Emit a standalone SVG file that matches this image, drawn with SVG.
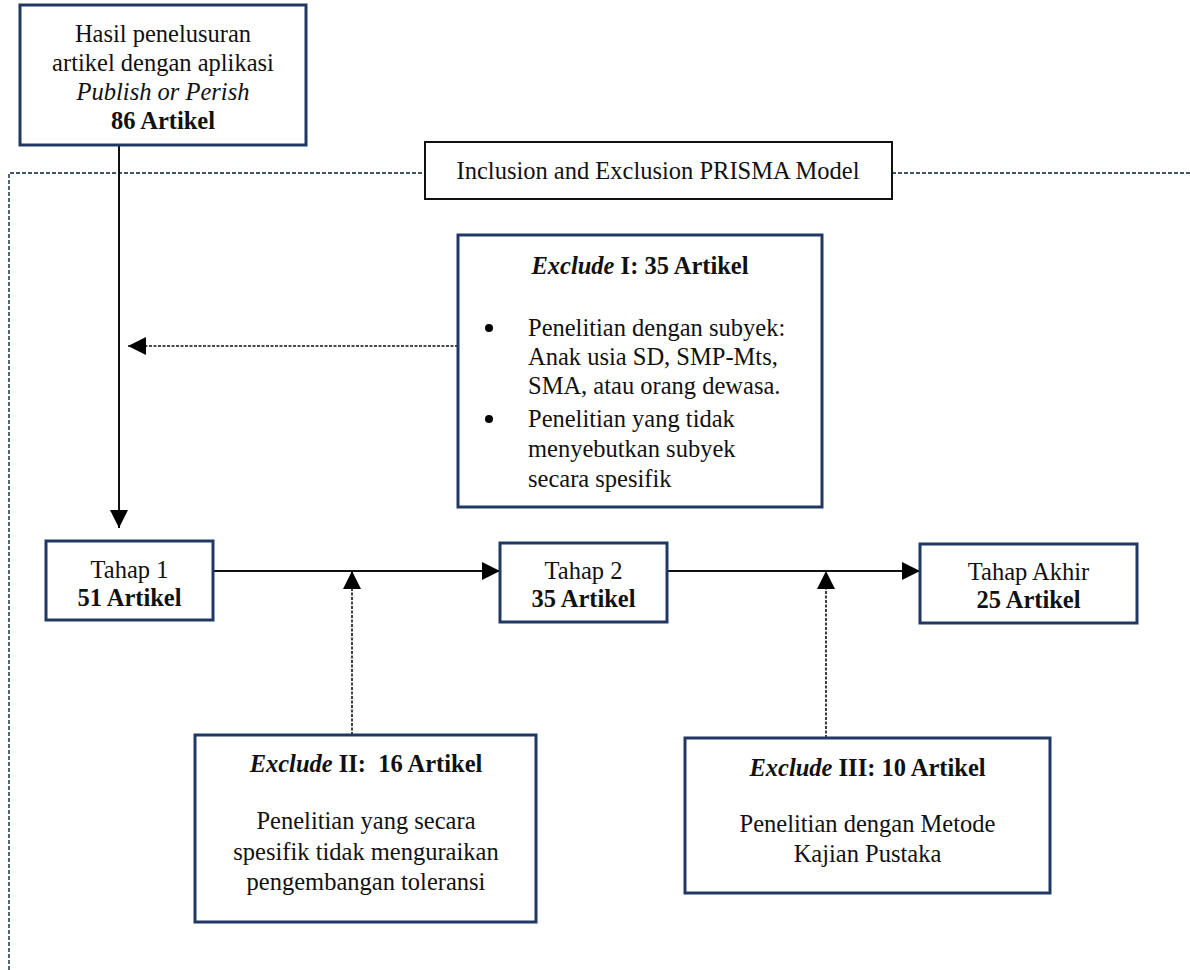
<svg xmlns="http://www.w3.org/2000/svg" width="1190" height="970" viewBox="0 0 1190 970">
<style>
text{font-family:"Liberation Serif","Times New Roman",serif;font-size:24.5px;fill:#111;}
.c{text-anchor:middle;}
.b{font-weight:bold;}
.i{font-style:italic;}
.node{fill:#fff;stroke:#1f3864;stroke-width:3;}
.lbl{fill:#fff;stroke:#111;stroke-width:2;}
.frame{fill:none;stroke:#44546a;stroke-width:1.8;stroke-dasharray:4 2;}
.solid{fill:none;stroke:#111;stroke-width:2;}
.dash{fill:none;stroke:#111;stroke-width:1.6;stroke-dasharray:3 1.5;}
</style>
<defs>
<marker id="ah" markerUnits="userSpaceOnUse" markerWidth="20" markerHeight="20" refX="18" refY="9" orient="auto" viewBox="0 0 20 20">
<path d="M0,0 L18,9 L0,18 z" fill="#000"/>
</marker>
</defs>
<rect width="1190" height="970" fill="#fff"/>
<path class="frame" d="M9,970 V173 H1190"/>
<g id="connectors">
<line class="solid" x1="119" y1="145" x2="119" y2="528" marker-end="url(#ah)"/>
<line class="dash" x1="458" y1="346" x2="128" y2="346" marker-end="url(#ah)"/>
<line class="solid" x1="213" y1="571" x2="500" y2="571" marker-end="url(#ah)"/>
<line class="solid" x1="667" y1="571" x2="920" y2="571" marker-end="url(#ah)"/>
<line class="dash" x1="352" y1="735" x2="352" y2="571" marker-end="url(#ah)"/>
<line class="dash" x1="826" y1="738" x2="826" y2="571" marker-end="url(#ah)"/>
</g>
<g id="search">
<rect class="node" x="20" y="5" width="286" height="140"/>
<text class="c" x="163" y="42">Hasil penelusuran</text>
<text class="c" x="163" y="71">artikel dengan aplikasi</text>
<text class="c i" x="163" y="100">Publish or Perish</text>
<text class="c b" x="163" y="129">86 Artikel</text>
</g>
<g id="label">
<rect class="lbl" x="425" y="142" width="467" height="57"/>
<text class="c" x="658" y="179">Inclusion and Exclusion PRISMA Model</text>
</g>
<g id="exclude1">
<rect class="node" x="458" y="235" width="364" height="272"/>
<text class="c b" x="640" y="274"><tspan class="i">Exclude</tspan> I: 35 Artikel</text>
<circle cx="489" cy="328" r="4" fill="#000"/>
<circle cx="489" cy="419" r="4" fill="#000"/>
<text x="528" y="336">Penelitian dengan subyek:</text>
<text x="528" y="365">Anak usia SD, SMP-Mts,</text>
<text x="528" y="394">SMA, atau orang dewasa.</text>
<text x="528" y="427">Penelitian yang tidak</text>
<text x="528" y="457">menyebutkan subyek</text>
<text x="528" y="487">secara spesifik</text>
</g>
<g id="tahap1">
<rect class="node" x="46" y="541" width="167" height="79"/>
<text class="c" x="129.5" y="578">Tahap 1</text>
<text class="c b" x="129.5" y="606">51 Artikel</text>
</g>
<g id="tahap2">
<rect class="node" x="500" y="543" width="167" height="79"/>
<text class="c" x="583.5" y="579">Tahap 2</text>
<text class="c b" x="583.5" y="607">35 Artikel</text>
</g>
<g id="tahapakhir">
<rect class="node" x="920" y="544" width="217" height="79"/>
<text class="c" x="1028.5" y="580">Tahap Akhir</text>
<text class="c b" x="1028.5" y="608">25 Artikel</text>
</g>
<g id="exclude2">
<rect class="node" x="195" y="735" width="341" height="187"/>
<text class="c b" x="366" y="772" xml:space="preserve"><tspan class="i">Exclude</tspan> II:  16 Artikel</text>
<text class="c" x="366" y="829">Penelitian yang secara</text>
<text class="c" x="366" y="860">spesifik tidak menguraikan</text>
<text class="c" x="366" y="890">pengembangan toleransi</text>
</g>
<g id="exclude3">
<rect class="node" x="685" y="738" width="365" height="155"/>
<text class="c b" x="867.5" y="776"><tspan class="i">Exclude</tspan> III: 10 Artikel</text>
<text class="c" x="867.5" y="832">Penelitian dengan Metode</text>
<text class="c" x="867.5" y="862">Kajian Pustaka</text>
</g>
</svg>
